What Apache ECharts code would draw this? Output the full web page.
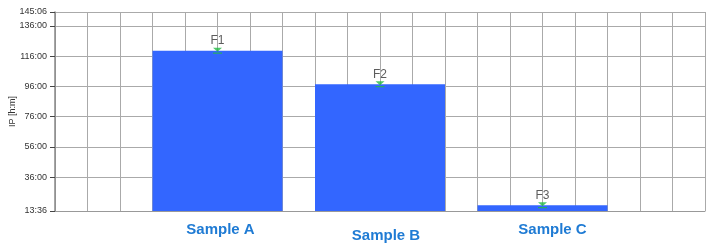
<!DOCTYPE html>
<html><head><meta charset="utf-8">
<script src="https://cdn.jsdelivr.net/npm/echarts@6/dist/echarts.min.js"></script>
<style>html,body{margin:0;padding:0;background:#fff}#c{width:717px;height:243px}</style>
</head><body><div id="c"></div>
<script>
// Data (hours)
var categories = ['Sample A', 'Sample B', 'Sample C'];
var positions = [1, 2, 3];
var values = [119.5, 97.33, 17.33];
var pointLabels = ['F1', 'F2', 'F3'];
var yTicks = [13.6, 36, 56, 76, 96, 116, 136, 145.1];
var yMin = 13.6, yMax = 145.1;

function hm(v) {
  var m = Math.round(v * 60);
  var h = Math.floor(m / 60), mm = m % 60;
  return h + ':' + (mm < 10 ? '0' : '') + mm;
}

var chart = echarts.init(document.getElementById('c'), null, {renderer: 'canvas'});
var barData = positions.map(function (p, i) { return [p, values[i]]; });
var ptData = positions.map(function (p, i) { return {value: [p, values[i]], name: pointLabels[i]}; });

chart.setOption({
  animation: false,
  grid: {left: 55, right: 12, top: 12, bottom: 32, containLabel: false, outerBoundsMode: 'none'},
  xAxis: {
    type: 'value', min: 0, max: 4, interval: 0.2,
    axisLine: {show: true, onZero: false, lineStyle: {color: '#999', width: 1}},
    axisTick: {show: false},
    splitLine: {show: true, lineStyle: {color: '#aaa', width: 1}},
    axisLabel: {
      margin: 11,
      formatter: function (v) {
        var r = Math.round(v);
        if (Math.abs(v - r) < 1e-6 && r >= 1 && r <= categories.length) {
          return '{s' + r + '|' + categories[r - 1] + '}';
        }
        return '';
      },
      rich: {
        s1: {fontSize: 15, fontWeight: 'bold', color: '#1f7bd4', fontFamily: 'Liberation Sans', padding: [0, 0, 0, 6]},
        s2: {fontSize: 15, fontWeight: 'bold', color: '#1f7bd4', fontFamily: 'Liberation Sans', padding: [6, 0, 0, 12]},
        s3: {fontSize: 15, fontWeight: 'bold', color: '#1f7bd4', fontFamily: 'Liberation Sans', padding: [0, 0, 0, 20]}
      }
    }
  },
  yAxis: {
    type: 'value', min: yMin, max: yMax,
    name: 'IP [h:m]', nameLocation: 'middle', nameGap: 38, nameRotate: 90, nameMoveOverlap: false,
    nameTextStyle: {fontSize: 9, color: '#333', fontFamily: 'Liberation Sans'},
    axisLine: {show: true, lineStyle: {color: '#888', width: 1.5}},
    axisTick: {show: true, inside: false, length: 5, customValues: yTicks, lineStyle: {color: '#444', width: 1}},
    axisLabel: {customValues: yTicks, formatter: hm, margin: 8, fontSize: 9, color: '#333', fontFamily: 'Liberation Sans'},
    splitLine: {show: false}
  },
  series: [
    {
      type: 'scatter', data: [], z: 0, silent: true,
      markLine: {
        z: 0, silent: true, symbol: 'none', animation: false,
        label: {show: false},
        lineStyle: {color: '#aaa', width: 1, type: 'solid'},
        data: yTicks.map(function (t) { return {yAxis: t}; })
      }
    },
    {
      type: 'bar', data: barData, barWidth: 130, z: 2,
      itemStyle: {color: '#3366ff'}
    },
    {
      type: 'scatter', data: ptData, z: 3,
      symbol: 'path://M0,0L10,0L5,6Z M0,7L10,7L10,9L0,9Z', symbolSize: [9, 6],
      itemStyle: {color: '#22bb44'},
      label: {show: true, position: 'top', distance: 1, formatter: '{b}', fontSize: 12, color: '#333', fontFamily: 'Liberation Sans'}
    }
  ]
});
</script></body></html>
